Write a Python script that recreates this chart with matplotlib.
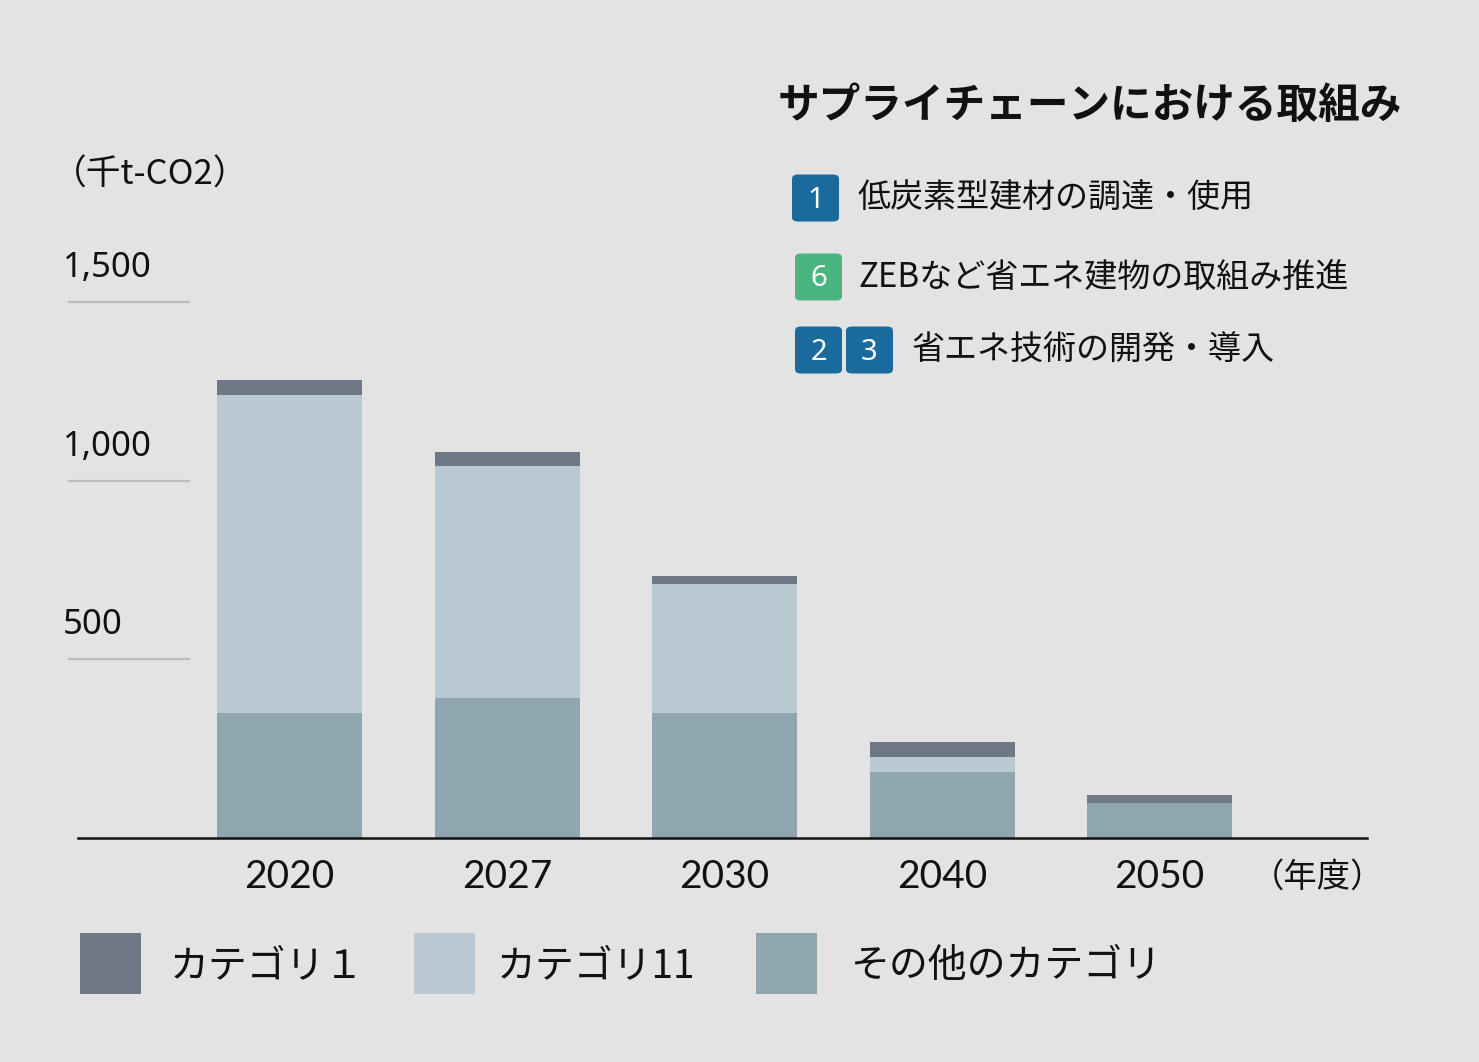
import matplotlib
matplotlib.use("Agg")
import matplotlib.pyplot as plt
from matplotlib.patches import FancyBboxPatch, Rectangle

plt.rcParams['font.family'] = ['Noto Sans CJK JP', 'DejaVu Sans']

years = ["2020", "2027", "2030", "2040", "2050"]
other = [350, 392, 350, 185, 98]
cat11 = [890, 649, 361, 42, 0]
cat1 = [42, 39, 22, 42, 22]
yticks = [500, 1000, 1500]
ytick_labels = ["500", "1,000", "1,500"]
series_names = ["カテゴリ１", "カテゴリ11", "その他のカテゴリ"]
title = "サプライチェーンにおける取組み"
items = ["低炭素型建材の調達・使用", "ZEBなど省エネ建物の取組み推進", "省エネ技術の開発・導入"]
badges = [["1"], ["6"], ["2", "3"]]

BG = "#e3e3e3"
C1 = "#6e7886"
C11 = "#b8c9d1"
CO = "#8fa6b1"
BLUE = "#1a6a9e"
GREEN = "#4bb57f"

W, H = 1479, 1062
fig = plt.figure(figsize=(W / 100, H / 100), dpi=100, facecolor=BG)

# axes mapped to pixel layout
x0, x1 = 78, 1367
yb, yt = 838, 302
ax = fig.add_axes([x0 / W, (H - yb) / H, (x1 - x0) / W, (yb - yt) / H])
ax.set_facecolor(BG)
c0, sp = 289.5, 217.5
ax.set_xlim((x0 - c0) / sp, (x1 - c0) / sp)
ax.set_ylim(0, 1500)
pxu = (yb - yt) / 1500.0
for s in ["top", "right", "left"]:
    ax.spines[s].set_visible(False)
ax.spines["bottom"].set_color("#111111")
ax.spines["bottom"].set_linewidth(1.8)
ax.set_yticks([])
ax.set_xticks([])

xs = list(range(len(years)))
bw = 145 / sp
ax.bar(xs, other, width=bw, color=CO, zorder=2)
ax.bar(xs, cat11, width=bw, bottom=other, color=C11, zorder=2)
b3 = [o + c for o, c in zip(other, cat11)]
ax.bar(xs, cat1, width=bw, bottom=b3, color=C1, zorder=2)

# year labels
ylab = -(877 - yb) / pxu
for x, y in zip(xs, years):
    ax.text(x, ylab, y, ha="center", va="center", fontsize=28, family=["Lato", "DejaVu Sans"],
            color="#111111", clip_on=False)
ax.text((1318 - c0) / sp, ylab, "（年度）", ha="center", va="center", fontsize=24,
        color="#111111", clip_on=False)

# short gridlines and labels
gl0, gl1 = (69 - c0) / sp, (189 - c0) / sp
for v, lab in zip(yticks, ytick_labels):
    ax.plot([gl0, gl1], [v, v], color="#bdbdbd", lw=1.6, clip_on=False)
    ax.text((63 - c0) / sp, v + 34 / pxu, lab, ha="left", va="center", fontsize=25,
            family=["Noto Sans", "DejaVu Sans"], color="#111111", clip_on=False)

fig.text(52 / W, 1 - 175 / H, "（千t-CO2）", ha="left", va="center", fontsize=25, color="#111111")

# title and items
fig.text(778 / W, 1 - 106 / H, title, ha="left", va="center", fontsize=30, fontweight="bold",
         color="#111111")

badge_rows = [(792, 198, 47), (795, 277, 47), (795, 350, 47)]
text_x = [858, 858, 912]
for (bx, by, bs), labs, tx, it, in zip(badge_rows, badges, text_x, items):
    for k, lb in enumerate(labs):
        col = GREEN if lb == "6" else BLUE
        left = bx + k * 51
        p = FancyBboxPatch((left / W, 1 - (by + bs / 2) / H), bs / W, bs / H,
                           boxstyle="round,pad=0,rounding_size=0.004", transform=fig.transFigure,
                           facecolor=col, edgecolor="none")
        fig.patches.append(p)
        fig.text((left + bs / 2) / W, 1 - (by + 2) / H, lb, ha="center", va="center",
                 fontsize=21, color="white", family=["Noto Sans", "DejaVu Sans"])
    fig.text(tx / W, 1 - by / H, it, ha="left", va="center", fontsize=23.8, color="#111111")

# bottom legend
leg = [(80, C1, 170), (414, C11, 497), (756, CO, 850)]
for (lx, col, tx), name in zip(leg, series_names):
    fig.patches.append(Rectangle((lx / W, 1 - 994 / H), 61 / W, 61 / H, transform=fig.transFigure,
                                 facecolor=col, edgecolor="none"))
    fig.text(tx / W, 1 - 966 / H, name, ha="left", va="center", fontsize=28, color="#111111")

fig.savefig("out.png", dpi=100, facecolor=BG)
